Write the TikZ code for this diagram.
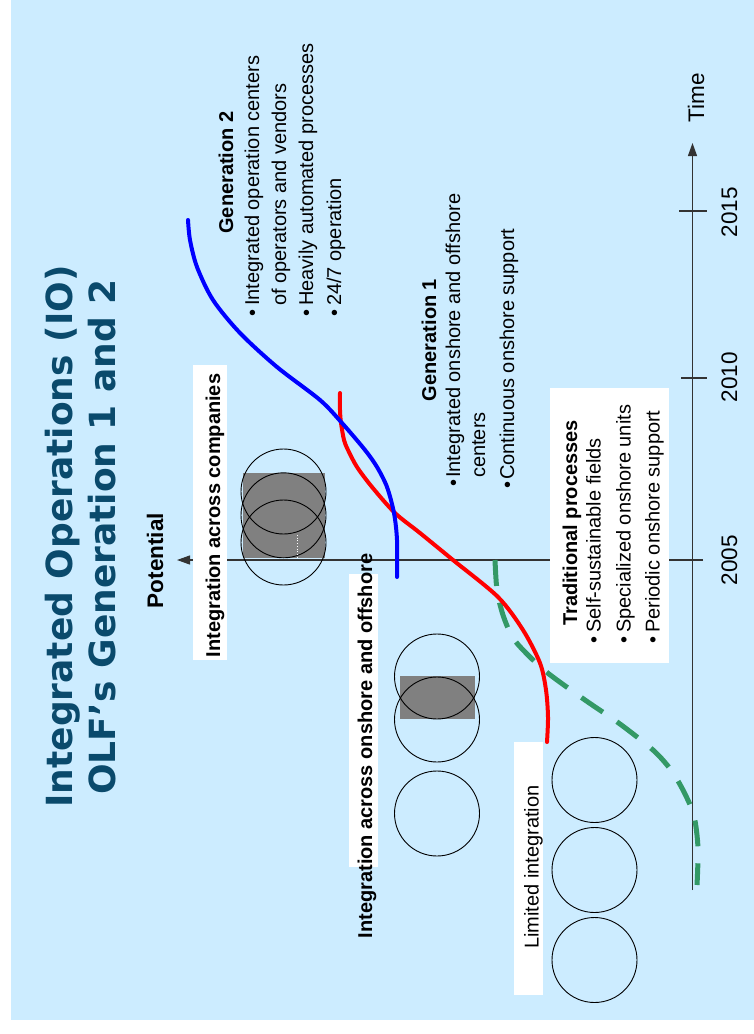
\documentclass[tikz,border=0pt]{standalone}
\usepackage{fontspec}
\setmainfont{Liberation Sans}
\newfontfamily\titlefont{DejaVu Sans}
\usetikzlibrary{arrows.meta}
\definecolor{bgblue}{HTML}{CCECFF}
\definecolor{titleblue}{HTML}{0A4A6C}
\definecolor{seagreen}{HTML}{339966}
\definecolor{axisgray}{HTML}{333333}
\definecolor{fillgray}{HTML}{808080}
\begin{document}
\begin{tikzpicture}[x=1pt,y=-1pt,
  titlestyle/.style={rotate=90, anchor=base, inner sep=0pt, text=titleblue, font=\titlefont\bfseries\fontsize{36}{40}\selectfont},
  txt/.style={rotate=90, inner sep=0pt, font=\fontsize{20}{24}\selectfont},
  btxt/.style={rotate=90, inner sep=0pt, font=\fontsize{20}{24}\selectfont\bfseries},
  axtxt/.style={rotate=90, anchor=base, inner sep=0pt, font=\fontsize{22.5}{26}\selectfont},
  axisline/.style={line width=1.2pt, draw=axisgray},
  tiparrow/.style={-{Triangle[length=13pt,width=9pt]}},
  ring/.style={circle, draw=black, line width=0.9pt, minimum size=85pt, inner sep=0pt},
  grayrect/.style={rectangle, fill=fillgray, draw=none, inner sep=0pt},
  whitebox/.style={rectangle, fill=white, draw=none, inner sep=0pt},
  curve/.style={line width=4pt, line cap=round}
]
\useasboundingbox (0,0) rectangle (754,1034);
\fill[white] (0,0) rectangle (754,1034);
\fill[bgblue] (11,0) rectangle (754,1020);

% title
\node[titlestyle] (title1) at (72,536.5) {Integrated Operations (IO)};
\node[titlestyle] (title2) at (115,537) {OLF’s Generation 1 and 2};

% axes
\coordinate (tbot) at (692.5,890);
\coordinate (ttop) at (692.5,143);
\coordinate (pright) at (703,560);
\coordinate (pleft) at (177,560);
\draw[axisline, tiparrow] (tbot) -- (ttop);
\draw[axisline, tiparrow] (pright) -- (pleft);
\coordinate (t15a) at (679,211);
\coordinate (t15b) at (707,211);
\coordinate (t10a) at (681,378);
\coordinate (t10b) at (707,378);
\draw[axisline] (t15a) -- (t15b);
\draw[axisline] (t10a) -- (t10b);

\node[axtxt] (time) at (704,97.5) {Time};
\node[axtxt] (y2015) at (737,212) {2015};
\node[axtxt] (y2010) at (737,377) {2010};
\node[axtxt] (y2005) at (737,560) {2005};
\node[axtxt, font=\fontsize{22.5}{26}\selectfont\bfseries] (potential) at (163,560.5) {Potential};

% circles: across companies
\node[grayrect, minimum width=82.3pt, minimum height=85.6pt] (grayC) at (283.85,515.5) {};
\node[ring] (cC1) at (283.5,491.5) {};
\node[ring] (cC2) at (283.5,515.3) {};
\node[ring] (cC3) at (283.5,542.5) {};
\coordinate (dA) at (297.3,535);
\coordinate (dB) at (297.3,557);
\draw[white, dotted, line width=0.7pt] (dA) -- (dB);

% circles: onshore / offshore
\node[grayrect, minimum width=74.4pt, minimum height=43pt] (grayB) at (437.5,697.8) {};
\node[ring] (cB1) at (437,676.5) {};
\node[ring] (cB2) at (437,719.5) {};
\node[ring] (cB3) at (437,813.5) {};

% circles: limited integration
\node[ring] (cA1) at (594.5,780) {};
\node[ring] (cA2) at (594.5,870) {};
\node[ring] (cA3) at (594.5,960) {};

% curves
\draw[seagreen, line width=5pt, dash pattern=on 26pt off 17pt]
  plot[smooth] coordinates {(495,560) (497,590) (503,615) (513,638) (530,657) (549,674) (585,700) (620,724) (653,750) (671,770) (684,792) (694,816) (698,848) (697,885)};
\draw[red, curve]
  plot[smooth] coordinates {(340,393) (340,410) (341,423) (344,440) (348,450) (357,467) (372,487) (395,513) (420,533) (453,560) (498,597) (523,630) (540,663) (546,690) (548,717) (547,742)};
\draw[blue, curve]
  plot[smooth] coordinates {(188,220) (190,240) (197,267) (213,300) (240,333) (277,367) (320,400) (342,423) (365,450) (377,467) (387,487) (394,513) (397,540) (397,577)};

% label boxes
\node[whitebox, minimum width=34pt, minimum height=295pt] (boxC) at (210,512.5) {};
\node[btxt, anchor=base] (labC) at (220,515.5) {Integration across companies};
\node[whitebox, minimum width=29pt, minimum height=293pt] (boxB) at (363.5,720.5) {};
\node[btxt, anchor=base] (labB) at (372,746) {Integration across onshore and offshore};
\node[whitebox, minimum width=29pt, minimum height=253pt] (boxA) at (528.5,868.5) {};
\node[txt, anchor=base] (labA) at (538.5,867) {Limited integration};

% traditional processes
\node[whitebox, minimum width=119pt, minimum height=275pt] (boxT) at (609.5,525.5) {};
\node[btxt, anchor=base west] (tradH) at (577,626) {Traditional processes};
\node[txt, anchor=base west] (trad1) at (600.7,643.5) {•\hspace{3.5pt}Self-sustainable fields};
\node[txt, anchor=base west] (trad2) at (630.5,643.5) {•\hspace{3.5pt}Specialized onshore units};
\node[txt, anchor=base west] (trad3) at (659.5,643.5) {•\hspace{3.5pt}Periodic onshore support};

% generation 1
\node[btxt, anchor=base] (g1H) at (436,340) {Generation 1};
\node[txt, anchor=base west] (g1a) at (460,486.5) {•\hspace{1.5pt}Integrated onshore and offshore};
\node[txt, anchor=base west] (g1b) at (485,478) {centers};
\node[txt, anchor=base west] (g1c) at (514,488.5) {•\hspace{1.5pt}Continuous onshore support};

% generation 2
\node[btxt, anchor=base] (g2H) at (233,172.5) {Generation 2};
\node[txt, anchor=base west] (g2a) at (259,316.5) {•\hspace{3.5pt}Integrated operation centers};
\node[txt, anchor=base west] (g2b) at (286,306) {of operators and vendors};
\node[txt, anchor=base west] (g2c) at (313,316.5) {•\hspace{3.5pt}Heavily automated processes};
\node[txt, anchor=base west] (g2d) at (341,316.5) {•\hspace{3.5pt}24/7 operation};
\end{tikzpicture}
\end{document}
